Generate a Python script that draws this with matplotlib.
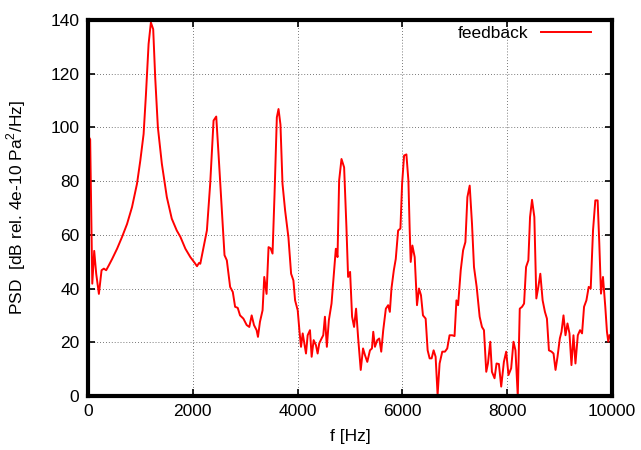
import matplotlib
matplotlib.use("Agg")
import matplotlib.pyplot as plt

plt.rcParams["font.family"] = ["Liberation Sans", "DejaVu Sans"]
plt.rcParams["mathtext.fontset"] = "custom"
plt.rcParams["mathtext.rm"] = "Liberation Sans"

# frequency [Hz] and PSD [dB]
freq = [
    0, 45, 85, 122, 160, 211, 262, 306, 350, 400, 464, 558, 653, 748, 843, 938,
    1001, 1064, 1108, 1159, 1203, 1247, 1285, 1336, 1412, 1507, 1601, 1696,
    1766, 1861, 1955, 2040, 2082, 2120, 2145, 2221, 2271, 2334, 2398, 2449,
    2493, 2556, 2607, 2651, 2714, 2765, 2809, 2859, 2903, 2967, 3030, 3080,
    3125, 3169, 3219, 3245, 3283, 3333, 3365, 3409, 3447, 3485, 3523, 3561,
    3605, 3637, 3674, 3713, 3763, 3826, 3877, 3921, 3953, 4003, 4035, 4066,
    4098, 4130, 4161, 4193, 4237, 4269, 4307, 4351, 4383, 4414, 4458, 4490,
    4522, 4559, 4597, 4648, 4699, 4730, 4762, 4793, 4838, 4888, 4932, 4964,
    5002, 5040, 5078, 5116, 5154, 5205, 5249, 5286, 5330, 5381, 5419, 5444,
    5476, 5520, 5558, 5596, 5634, 5684, 5728, 5760, 5791, 5836, 5873, 5918,
    5962, 5994, 6032, 6076, 6114, 6139, 6158, 6190, 6234, 6278, 6316, 6354,
    6392, 6443, 6481, 6519, 6557, 6595, 6633, 6671, 6709, 6760, 6811, 6855,
    6899, 6950, 6994, 7030, 7062, 7112, 7157, 7201, 7239, 7283, 7327, 7365,
    7416, 7473, 7517, 7555, 7599, 7631, 7675, 7707, 7757, 7795, 7840, 7884,
    7935, 7979, 8023, 8074, 8118, 8156, 8200, 8238, 8282, 8320, 8358, 8402,
    8434, 8472, 8516, 8554, 8592, 8630, 8674, 8718, 8756, 8794, 8844, 8882,
    8920, 8958, 9002, 9034, 9072, 9110, 9148, 9186, 9224, 9262, 9300, 9345,
    9388, 9426, 9464, 9509, 9553, 9591, 9635, 9679, 9723, 9755, 9787, 9825,
    9869, 9901, 9926, 9951,
]
psd = [
    97.0, 95.5, 41.8, 54.0, 45.5, 38.0, 46.8, 47.4, 46.8, 48.6, 51.0, 54.8, 59.2,
    64.0, 70.3, 79.0, 87.6, 97.5, 112.0, 131.0, 139.0, 136.5, 118.6, 100.0,
    86.4, 74.0, 66.0, 61.6, 59.2, 54.8, 51.7, 49.5, 48.3, 49.5, 49.2, 56.7,
    61.6, 79.0, 102.5, 104.0, 90.0, 69.0, 52.4, 50.5, 40.6, 38.7, 33.2, 32.8,
    30.0, 28.8, 26.4, 25.7, 30.0, 26.4, 24.5, 22.0, 27.6, 31.9, 44.3, 38.0,
    55.4, 55.0, 53.0, 75.0, 103.7, 106.8, 101.0, 79.0, 69.0, 59.0, 45.5,
    43.0, 35.6, 31.9, 24.5, 18.3, 23.3, 19.6, 15.8, 22.6, 24.5, 14.6, 20.8,
    18.9, 15.8, 19.6, 21.4, 22.6, 29.5, 18.3, 28.2, 34.4, 46.8, 54.8, 51.7,
    80.2, 88.2, 85.1, 62.9, 44.3, 46.2, 29.5, 25.7, 32.5, 22.0, 9.7, 17.7,
    15.2, 12.7, 17.0, 17.7, 23.9, 18.3, 20.8, 21.4, 16.5, 24.5, 32.5, 33.8,
    31.3, 40.0, 46.8, 51.0, 61.6, 62.3, 79.0, 89.5, 89.9, 80.2, 61.6, 49.9,
    56.0, 51.7, 33.8, 40.0, 37.5, 30.0, 28.8, 17.0, 14.0, 14.0, 17.0, 14.6,
    0.4, 12.1, 16.5, 16.5, 17.7, 22.6, 22.6, 22.3, 35.6, 33.8, 46.8, 54.2,
    57.3, 74.0, 78.3, 64.1, 48.0, 40.6, 29.5, 25.7, 24.5, 9.0, 12.1, 20.2,
    9.0, 6.6, 12.1, 11.9, 3.5, 12.7, 16.5, 7.8, 10.3, 20.2, 17.0, 0.0, 32.5,
    33.2, 34.4, 48.0, 50.5, 66.6, 73.0, 66.6, 36.3, 40.6, 45.5, 35.6, 31.3,
    28.8, 17.0, 16.5, 15.8, 9.7, 14.6, 21.4, 23.9, 30.0, 22.6, 27.0, 23.3,
    11.5, 22.6, 12.1, 22.6, 24.5, 23.3, 33.2, 35.6, 40.6, 40.0, 61.6, 72.8,
    72.8, 56.7, 38.1, 44.3, 33.2, 23.9, 20.2, 22.6,
]

fig = plt.figure(figsize=(6.41, 4.5), dpi=100)
ax = fig.add_axes([0.137, 0.12, 0.818, 0.836])

ax.plot(freq, psd, color="red", lw=1.4, label="feedback")

ax.set_xlim(0, 10000)
ax.set_ylim(0, 140)
ax.set_xticks(range(0, 10001, 2000))
ax.set_yticks(range(0, 141, 20))
ax.grid(True, color="black", linestyle=(0, (1, 2.5)), linewidth=0.6, alpha=0.7)
ax.tick_params(direction="in", length=5, width=1.2, top=True, right=True,
               labelsize=12.5, pad=6)
for s in ax.spines.values():
    s.set_linewidth(3)

ax.set_xlabel("f [Hz]", fontsize=12.5, labelpad=7)
ax.set_ylabel("PSD  [dB rel. 4e-10 Pa$^2$/Hz]", fontsize=12.5, labelpad=16)

ax.legend(loc="upper right", frameon=False, markerfirst=False, fontsize=12.5,
          handlelength=2.9, borderaxespad=0, handletextpad=0.7,
          bbox_to_anchor=(1 - 14 / 524, 1 + 1 / 376))

fig.savefig("out.png", dpi=100)
